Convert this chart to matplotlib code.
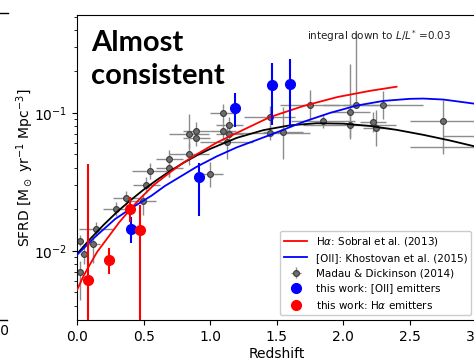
import matplotlib

matplotlib.use("Agg")
import matplotlib.pyplot as plt
import numpy as np
from matplotlib.lines import Line2D

# Madau & Dickinson (2014) compilation: z, SFRD, z half-width, dex down, dex up
md_z = [0.023, 0.023, 0.05, 0.12, 0.143, 0.293, 0.368, 0.494, 0.52, 0.545,
        0.694, 0.694, 0.844, 0.844, 0.895, 0.895, 0.995, 1.095, 1.145, 1.095,
        1.145, 1.125, 1.446, 1.446, 1.546, 1.747, 1.847, 2.098, 2.047, 2.047,
        2.223, 2.248, 2.299, 2.75, 3.25, 3.25]
md_sfrd = [0.0118, 0.0070, 0.0095, 0.0112, 0.0143, 0.020, 0.024, 0.023, 0.030, 0.038,
           0.046, 0.040, 0.050, 0.070, 0.0736, 0.066, 0.0358, 0.099, 0.082, 0.0736,
           0.070, 0.061, 0.0927, 0.0716, 0.073, 0.114, 0.0875, 0.114, 0.101, 0.0815,
           0.0857, 0.078, 0.114, 0.088, 0.068, 0.057]
md_zerr = [0.02, 0.02, 0.03, 0.05, 0.13, 0.10, 0.10, 0.10, 0.10, 0.13,
           0.10, 0.10, 0.15, 0.15, 0.10, 0.10, 0.10, 0.10, 0.10, 0.10,
           0.10, 0.20, 0.19, 0.30, 0.15, 0.22, 0.24, 0.25, 0.15, 0.35,
           0.10, 0.10, 0.30, 0.25, 0.50, 0.75]
md_dex_lo = [0.04, 0.20, 0.07, 0.14, 0.05, 0.05, 0.05, 0.10, 0.06, 0.06,
             0.13, 0.07, 0.08, 0.10, 0.07, 0.06, 0.09, 0.07, 0.06, 0.06,
             0.06, 0.12, 0.08, 0.05, 0.20, 0.11, 0.05, 0.02, 0.18, 0.10,
             0.07, 0.13, 0.10, 0.24, 0.05, 0.05]
md_dex_hi = [0.04, 0.08, 0.07, 0.05, 0.05, 0.05, 0.05, 0.05, 0.06, 0.06,
             0.07, 0.07, 0.08, 0.15, 0.07, 0.06, 0.09, 0.07, 0.06, 0.06,
             0.06, 0.14, 0.08, 0.05, 0.18, 0.11, 0.05, 0.52, 0.35, 0.10,
             0.07, 0.13, 0.10, 0.15, 0.05, 0.05]

# this work
oii_z = [0.406, 0.917, 1.188, 1.468, 1.60]
oii_sfrd = [0.0144, 0.0344, 0.1085, 0.159, 0.163]
oii_lo = [0.0113, 0.0178, 0.079, 0.0813, 0.079]
oii_hi = [0.0176, 0.043, 0.139, 0.229, 0.245]

ha_z = [0.085, 0.238, 0.40, 0.476]
ha_sfrd = [0.00613, 0.00856, 0.020, 0.0141]
ha_lo = [1e-4, 0.00678, 0.0162, 1e-4]
ha_hi = [0.0425, 0.0104, 0.0244, 0.0215]

# curves (log10 SFRD)
sobral_z = [0.0, 0.05, 0.085, 0.15, 0.235, 0.32, 0.40, 0.475, 0.58, 0.70,
            0.80, 0.90, 1.05, 1.20, 1.45, 1.70, 1.955, 2.20, 2.40]
sobral_log = [-2.285, -2.18, -2.12, -2.01, -1.90, -1.79, -1.70, -1.62, -1.52, -1.43,
              -1.36, -1.30, -1.215, -1.145, -1.03, -0.95, -0.885, -0.84, -0.81]

khost_z = [0.0, 0.135, 0.286, 0.41, 0.56, 0.66, 0.90, 1.05, 1.20, 1.45,
           1.70, 1.90, 2.10, 2.30, 2.50, 2.60, 2.75, 3.0]
khost_log = [-2.03, -1.90, -1.77, -1.69, -1.60, -1.53, -1.39, -1.315, -1.25, -1.16,
             -1.065, -1.00, -0.947, -0.913, -0.898, -0.896, -0.903, -0.935]

md_fit_z = [0.0, 0.1, 0.2, 0.3, 0.4, 0.5, 0.6, 0.7, 0.8, 0.9, 1.0, 1.2, 1.4,
            1.6, 1.8, 2.0, 2.2, 2.4, 2.6, 2.8, 3.0]
md_fit_log = [-2.023, -1.913, -1.812, -1.719, -1.635, -1.557, -1.486, -1.421, -1.362,
              -1.308, -1.261, -1.181, -1.125, -1.090, -1.075, -1.078, -1.095, -1.123,
              -1.159, -1.200, -1.246]

fig = plt.figure(figsize=(4.74, 3.59), dpi=100)
ax = fig.add_axes([77 / 474, 39 / 359, 399.5 / 474, 305 / 359])
ax.set_yscale("log")

md_sfrd_a = np.array(md_sfrd)
yerr = [md_sfrd_a - md_sfrd_a * 10 ** -np.array(md_dex_lo),
        md_sfrd_a * 10 ** np.array(md_dex_hi) - md_sfrd_a]
md_handle = ax.errorbar(md_z, md_sfrd, xerr=md_zerr, yerr=yerr, fmt="o",
                        color="#5f5f5f", ecolor="#8c8c8c", elinewidth=1.0,
                        ms=4.2, mfc="#6e6e6e", mec="#3a3a3a", mew=0.8,
                        zorder=2, label="Madau & Dickinson (2014)")

ax.plot(md_fit_z, 10 ** np.array(md_fit_log), color="black", lw=1.3, zorder=3)
ha_line, = ax.plot(sobral_z, 10 ** np.array(sobral_log), color="red", lw=1.3,
                   zorder=3, label=r"H$\alpha$: Sobral et al. (2013)")
oii_line, = ax.plot(khost_z, 10 ** np.array(khost_log), color="blue", lw=1.3,
                    zorder=3, label="[OII]: Khostovan et al. (2015)")

oii_a = np.array(oii_sfrd)
oii_handle = ax.errorbar(oii_z, oii_sfrd,
                         yerr=[oii_a - np.array(oii_lo), np.array(oii_hi) - oii_a],
                         fmt="o", color="blue", ms=7, elinewidth=1.5, zorder=4,
                         label="this work: [OII] emitters")
ha_a = np.array(ha_sfrd)
ha_handle = ax.errorbar(ha_z, ha_sfrd,
                        yerr=[ha_a - np.array(ha_lo), np.array(ha_hi) - ha_a],
                        fmt="o", color="red", ms=7, elinewidth=1.5, zorder=4,
                        label=r"this work: H$\alpha$ emitters")

ax.set_xlim(0, 3.0)
ax.set_ylim(10 ** -2.502, 10 ** -0.29)
ax.set_xticks([0.0, 0.5, 1.0, 1.5, 2.0, 2.5, 3.0])
ax.set_xticklabels(["0.0", "0.5", "1.0", "1.5", "2.0", "2.5", "3.0"])
ax.tick_params(labelsize=10)
ax.set_xlabel("Redshift", fontsize=10, labelpad=2)
ax.set_ylabel(r"SFRD [M$_\odot$ yr$^{-1}$ Mpc$^{-3}$]", fontsize=10, labelpad=-1.5)

ax.text(0.035, 0.95, "Almost\nconsistent", transform=ax.transAxes,
        fontsize=21, fontweight="bold", family="Lato", va="top", ha="left",
        linespacing=1.32)
ax.text(0.575, 0.93, r"integral down to $L/L^{*}$ =0.03", transform=ax.transAxes,
        fontsize=7.5, color="#222222", va="center", ha="left")

ax.legend(handles=[ha_line, oii_line, md_handle, oii_handle, ha_handle],
          loc="lower right", fontsize=7.5, labelspacing=0.5, framealpha=1,
          borderaxespad=0.5, handlelength=2.2)

# bits of the neighbouring panel that the crop left in
fig.add_artist(Line2D([0, 8 / 474], [1 - 13 / 359, 1 - 13 / 359], color="black", lw=1))
fig.add_artist(Line2D([0, 7 / 474], [39 / 359, 39 / 359], color="black", lw=1))
fig.text(9 / 474, 1 - 331 / 359, "1.0", fontsize=10, ha="right", va="center")

fig.savefig("out.png", dpi=100)
